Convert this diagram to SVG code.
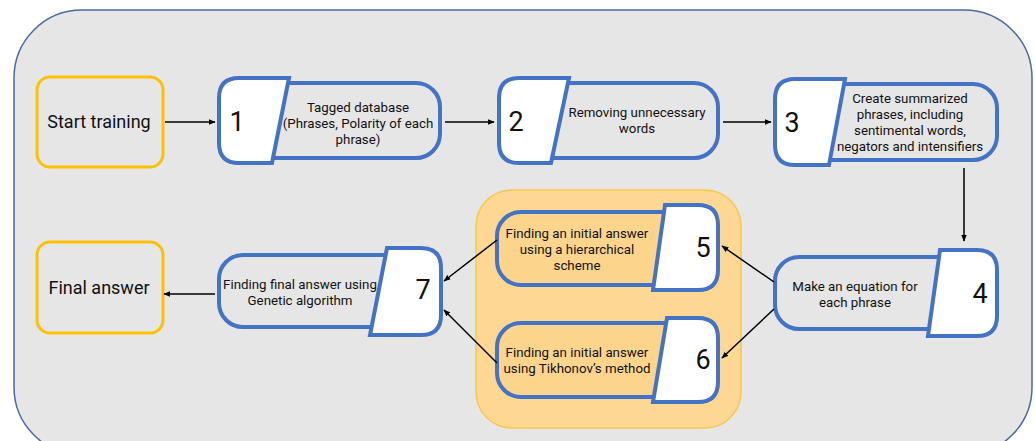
<svg xmlns="http://www.w3.org/2000/svg" width="1035" height="441" viewBox="0 0 1035 441">
<style>
.term{fill:#e6e6e6;stroke:#ffc000;stroke-width:3}
.box{fill:#e6e6e6;stroke:#4472c4;stroke-width:4}
.obox{fill:#fdd48c;stroke:#4472c4;stroke-width:4}
.tab{fill:#ffffff;stroke:#4472c4;stroke-width:4;stroke-linejoin:miter}
.big{font-family:Roboto,"Liberation Sans",sans-serif;font-size:18px;fill:#111;text-anchor:middle}
.num{font-family:Roboto,"Liberation Sans",sans-serif;font-size:27px;fill:#111;text-anchor:middle}
.sm{font-family:Roboto,"Liberation Sans",sans-serif;font-size:13.3px;fill:#111;text-anchor:middle}
.con{stroke:#000;stroke-width:1.5;fill:none;marker-end:url(#ah)}
</style>
<defs>
<marker id="ah" viewBox="0 0 10 10" refX="9" refY="5" markerWidth="7" markerHeight="7" markerUnits="userSpaceOnUse" orient="auto">
<path d="M0 1 L10 5 L0 9 Z" fill="#000"/>
</marker>
</defs>
<rect x="14" y="10" width="1018" height="445" rx="68" fill="#e6e6e6" stroke="#4a6aa5" stroke-width="1.5"/>
<rect id="group56" x="476" y="190" width="265" height="238" rx="36" fill="#fed893" stroke="#f7c84e" stroke-width="1.5"/>

<g id="start">
<rect class="term" x="37" y="77" width="126" height="90" rx="13"/>
<text class="big" x="99" y="128">Start training</text>
</g>
<g id="n1">
<rect class="box" x="219" y="83" width="221" height="75" rx="24"/>
<path class="tab" d="M239 78 H289 L272 163 H239 Q219 163 219 143 V98 Q219 78 239 78 Z"/>
<text class="num" x="237" y="131">1</text>
<text class="sm" x="358" y="112">Tagged database</text>
<text class="sm" x="358" y="128">(Phrases, Polarity of each</text>
<text class="sm" x="358" y="144">phrase)</text>
</g>
<g id="n2">
<rect class="box" x="499" y="83" width="219" height="75" rx="24"/>
<path class="tab" d="M519 78 H569 L551 163 H519 Q499 163 499 143 V98 Q499 78 519 78 Z"/>
<text class="num" x="516" y="131">2</text>
<text class="sm" x="637" y="117">Removing unnecessary</text>
<text class="sm" x="637" y="133">words</text>
</g>
<g id="n3">
<rect class="box" x="775" y="84" width="222" height="76" rx="24"/>
<path class="tab" d="M795 79 H845 L829 165 H795 Q775 165 775 145 V99 Q775 79 795 79 Z"/>
<text class="num" x="792" y="132">3</text>
<text class="sm" x="910" y="103">Create summarized</text>
<text class="sm" x="910" y="119">phrases, including</text>
<text class="sm" x="910" y="135">sentimental words,</text>
<text class="sm" x="910" y="151">negators and intensifiers</text>
</g>
<g id="n4">
<rect class="box" x="775" y="257" width="222" height="72" rx="24"/>
<path class="tab" d="M940 250 H977 Q997 250 997 270 V316 Q997 336 977 336 H928 Z"/>
<text class="num" x="980" y="303">4</text>
<text class="sm" x="855" y="291">Make an equation for</text>
<text class="sm" x="855" y="307">each phrase</text>
</g>
<g id="n5">
<rect class="obox" x="497" y="212" width="221" height="73" rx="24"/>
<path class="tab" d="M665 205 H698 Q718 205 718 225 V270 Q718 290 698 290 H653 Z"/>
<text class="num" x="703" y="257">5</text>
<text class="sm" x="577" y="238">Finding an initial answer</text>
<text class="sm" x="577" y="254">using a hierarchical</text>
<text class="sm" x="577" y="270">scheme</text>
</g>
<g id="n6">
<rect class="obox" x="497" y="323" width="221" height="74" rx="24"/>
<path class="tab" d="M667 318 H698 Q718 318 718 338 V382 Q718 402 698 402 H653 Z"/>
<text class="num" x="703" y="369">6</text>
<text class="sm" x="577" y="357">Finding an initial answer</text>
<text class="sm" x="577" y="373">using Tikhonov’s method</text>
</g>
<g id="n7">
<rect class="box" x="219" y="255" width="222" height="72" rx="24"/>
<path class="tab" d="M387 248 H421 Q441 248 441 268 V315 Q441 335 421 335 H370 Z"/>
<text class="num" x="423" y="299">7</text>
<text class="sm" x="300" y="289">Finding final answer using</text>
<text class="sm" x="300" y="305">Genetic algorithm</text>
</g>
<g id="final">
<rect class="term" x="37" y="242" width="126" height="91" rx="13"/>
<text class="big" x="99" y="294">Final answer</text>
</g>

<g id="connectors">
<line class="con" x1="165" y1="122" x2="215" y2="122"/>
<line class="con" x1="445" y1="122" x2="494" y2="122"/>
<line class="con" x1="723" y1="122" x2="771" y2="122"/>
<line class="con" x1="964" y1="168" x2="964" y2="241"/>
<line class="con" x1="774" y1="282" x2="722" y2="246"/>
<line class="con" x1="774" y1="309" x2="722" y2="358"/>
<line class="con" x1="497" y1="240" x2="444" y2="281"/>
<line class="con" x1="497" y1="363" x2="444" y2="310"/>
<line class="con" x1="215" y1="294" x2="164" y2="294"/>
</g>
</svg>
